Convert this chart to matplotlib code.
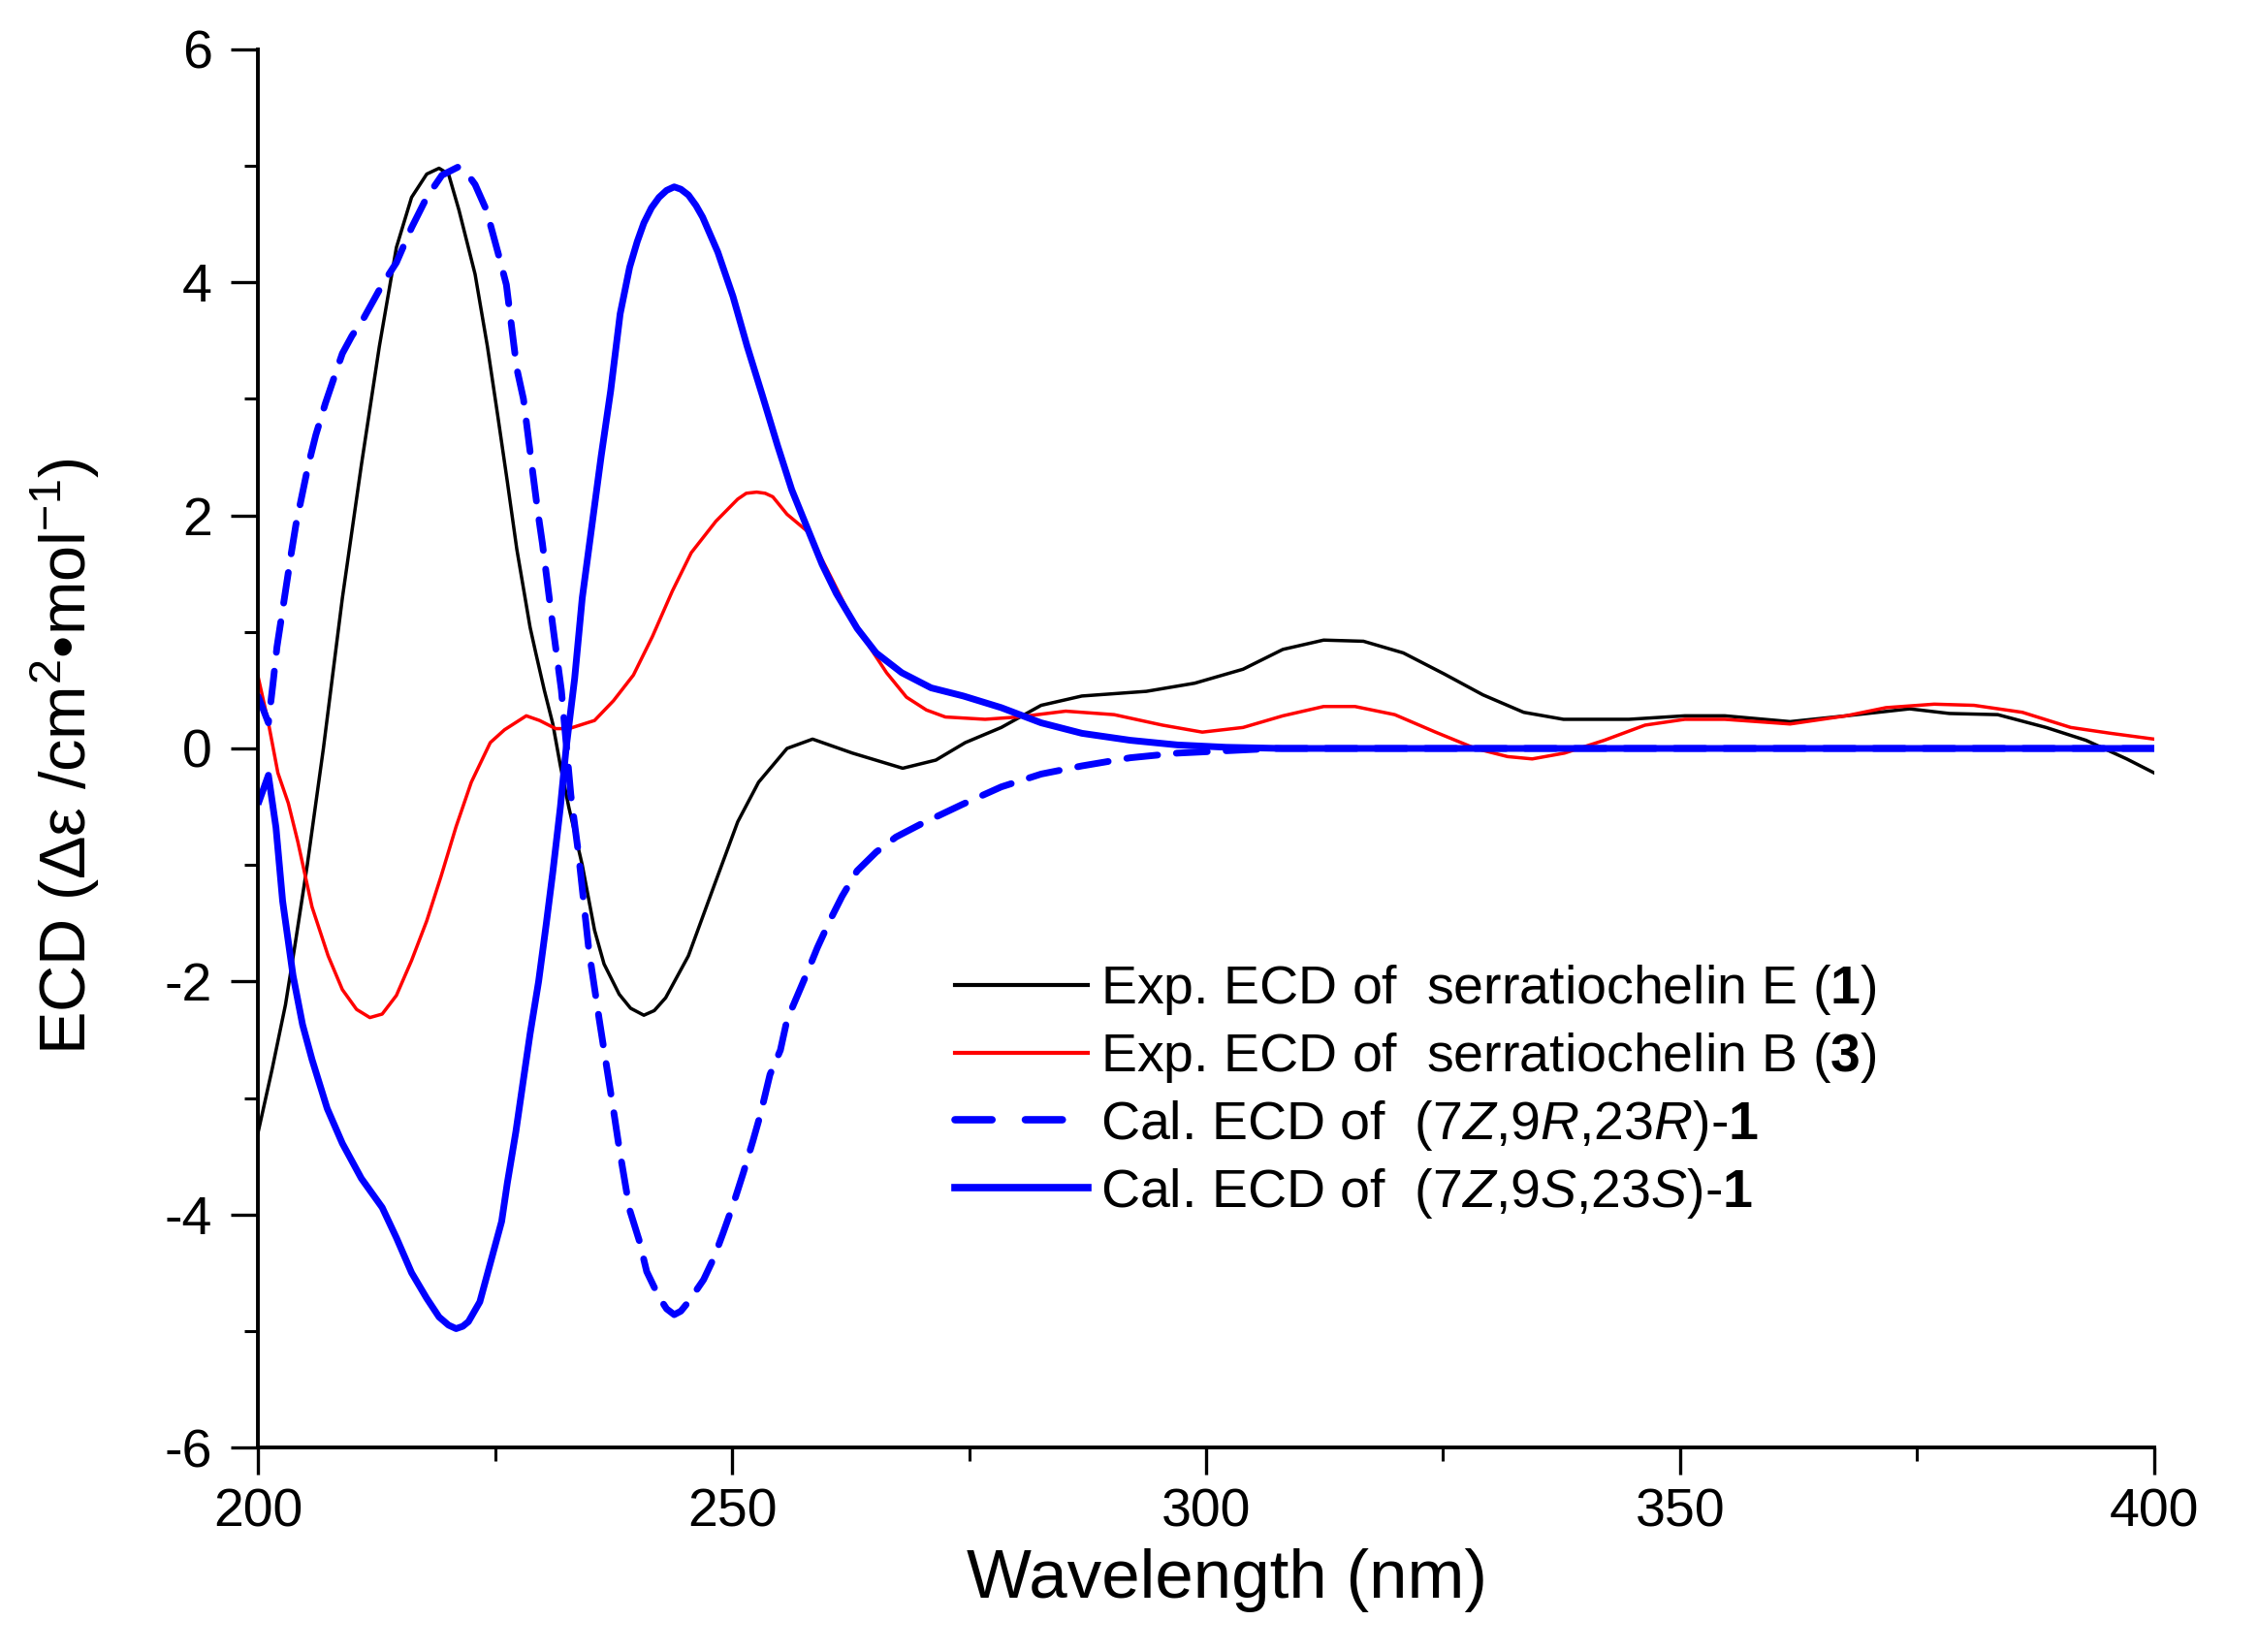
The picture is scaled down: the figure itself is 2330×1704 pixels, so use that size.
import matplotlib
matplotlib.use("Agg")
import matplotlib.pyplot as plt
import matplotlib.ticker as ticker
from matplotlib.lines import Line2D

plt.rcParams["font.family"] = ["Liberation Sans", "DejaVu Sans"]
plt.rcParams["mathtext.fontset"] = "custom"
plt.rcParams["mathtext.rm"] = "Liberation Sans"
plt.rcParams["mathtext.it"] = "Liberation Sans:italic"
plt.rcParams["mathtext.bf"] = "Liberation Sans:bold"
plt.rcParams["axes.unicode_minus"] = False

# --- Exp. ECD of serratiochelin E (1) ---
exp1_x = [200, 201.5, 202.9, 203.9, 205.2, 206.9, 208.9, 210.9, 212.8, 214.6,
          216.2, 217.8, 219.1, 220.1, 221.2, 222.9, 224.2, 225.3, 226.3, 227.3,
          228.7, 229.3, 230.2, 231.1, 231.9, 232.8, 234.2, 235.5, 236.5, 238.1,
          239.3, 240.7, 241.8, 243.0, 245.4, 248.1, 250.6, 252.8, 255.8, 258.5,
          262.7, 268.0, 271.5, 274.6, 278.4, 282.6, 286.9, 293.7, 298.8, 303.9,
          308.1, 312.4, 316.6, 320.8, 325.1, 329.2, 333.5, 337.7, 344.6, 350.5,
          354.7, 361.6, 367.5, 374.2, 378.4, 383.5, 388.6, 392.8, 397.1, 400]
exp1_y = [-3.3, -2.75, -2.2, -1.69, -1.0, 0.0, 1.29, 2.43, 3.45, 4.3,
          4.73, 4.93, 4.98, 4.93, 4.62, 4.07, 3.45, 2.85, 2.29, 1.71,
          1.04, 0.82, 0.5, 0.21, -0.15, -0.51, -1.0, -1.56, -1.85, -2.11,
          -2.23, -2.29, -2.25, -2.14, -1.78, -1.18, -0.63, -0.29, 0.0, 0.08,
          -0.04, -0.17, -0.1, 0.05, 0.18, 0.37, 0.45, 0.49, 0.56, 0.68,
          0.85, 0.93, 0.92, 0.82, 0.64, 0.46, 0.31, 0.25, 0.25, 0.28,
          0.28, 0.23, 0.28, 0.34, 0.3, 0.29, 0.18, 0.07, -0.09, -0.21]

# --- Exp. ECD of serratiochelin B (3) ---
exp3_x = [200, 201.1, 202.1, 203.2, 204.2, 205.7, 207.4, 208.9, 210.4, 211.8,
          213.1, 214.6, 216.2, 217.8, 219.3, 220.9, 222.5, 224.5, 226.0, 228.3,
          229.7, 231.4, 232.8, 235.5, 237.5, 239.6, 241.6, 243.7, 245.7, 248.3,
          250.6, 251.5, 252.6, 253.5, 254.3, 255.8, 258.0, 260.0, 262.1, 264.2,
          266.3, 268.4, 270.5, 272.5, 276.7, 280.2, 285.2, 290.3, 295.4, 299.6,
          303.9, 308.1, 312.4, 315.7, 319.9, 324.2, 328.4, 331.8, 334.4, 337.8,
          342.0, 346.3, 350.5, 354.7, 361.6, 367.5, 371.7, 376.8, 381.0, 386.1,
          391.2, 395.4, 400]
exp3_y = [0.62, 0.22, -0.21, -0.47, -0.8, -1.36, -1.78, -2.07, -2.24, -2.31,
          -2.28, -2.12, -1.82, -1.48, -1.1, -0.67, -0.29, 0.05, 0.16, 0.28,
          0.24, 0.17, 0.17, 0.24, 0.41, 0.63, 0.96, 1.35, 1.68, 1.95,
          2.14, 2.19, 2.2, 2.19, 2.16, 2.01, 1.86, 1.54, 1.2, 0.91,
          0.65, 0.44, 0.33, 0.27, 0.25, 0.27, 0.32, 0.29, 0.2, 0.14,
          0.18, 0.28, 0.36, 0.36, 0.29, 0.14, 0.0, -0.07, -0.09, -0.04,
          0.07, 0.2, 0.25, 0.25, 0.21, 0.28, 0.35, 0.38, 0.37, 0.31,
          0.18, 0.13, 0.08]

# --- Cal. ECD of (7Z,9R,23R)-1 ---
calr_x = [200, 201.1, 201.6, 202.0, 203.5, 204.0, 205.3, 206.1, 207.1, 208.1,
          208.9, 209.9, 211.2, 213.1, 214.6, 216.2, 217.8, 219.4, 221.1, 222.1,
          222.9, 224.1, 225.3, 226.2, 227.3, 228.0, 228.9, 229.5, 230.0, 231.1,
          232.0, 233.0, 233.8, 234.9, 236.0, 237.6, 238.1, 239.2, 240.2, 241.0,
          242.3, 243.1, 243.9, 244.6, 245.4, 247.0, 248.1, 249.1, 250.1, 251.2,
          252.2, 253.0, 254.0, 255.1, 255.8, 256.9, 258.0, 259.0, 260.3, 261.6,
          263.2, 265.2, 267.3, 269.9, 274.3, 278.4, 282.6, 286.9, 292.0, 297.0,
          302.1, 307.2, 320, 340, 360, 380, 400]
calr_y = [0.45, 0.22, 0.57, 0.87, 1.67, 1.92, 2.43, 2.69, 2.96, 3.2,
          3.39, 3.54, 3.7, 3.98, 4.17, 4.47, 4.73, 4.92, 4.99, 4.93,
          4.84, 4.62, 4.26, 3.98, 3.26, 3.0, 2.42, 2.04, 1.76, 1.05,
          0.5, -0.4, -0.9, -1.73, -2.33, -3.16, -3.43, -3.96, -4.22, -4.49,
          -4.71, -4.81, -4.86, -4.83, -4.75, -4.56, -4.37, -4.15, -3.92, -3.64,
          -3.37, -3.14, -2.8, -2.59, -2.33, -2.12, -1.91, -1.71, -1.48, -1.27,
          -1.05, -0.89, -0.76, -0.65, -0.48, -0.33, -0.22, -0.15, -0.08, -0.04,
          -0.02, 0.0, 0.0, 0.0, 0.0, 0.0, 0.0]

# --- Cal. ECD of (7Z,9S,23S)-1 ---
cals_x = [200, 201.1, 201.9, 202.6, 203.7, 204.7, 205.7, 207.3, 208.9, 210.9,
          213.1, 214.6, 216.2, 217.8, 219.1, 220.1, 220.9, 221.6, 222.2, 223.4,
          224.6, 225.7, 226.3, 227.2, 228.0, 228.7, 229.6, 230.4, 231.1, 231.9,
          232.5, 233.4, 234.2, 235.2, 236.2, 237.2, 238.2, 239.2, 240.0, 240.7,
          241.5, 242.3, 243.1, 243.9, 244.6, 245.4, 246.2, 246.9, 248.5, 250.1,
          251.6, 253.2, 254.8, 256.3, 258.0, 259.5, 261.0, 263.2, 265.2, 267.9,
          271.0, 274.4, 278.4, 282.6, 286.9, 292.0, 297.0, 302.1, 308, 320,
          340, 360, 380, 400]
cals_y = [-0.48, -0.23, -0.68, -1.31, -1.95, -2.37, -2.67, -3.09, -3.39, -3.69,
          -3.94, -4.2, -4.5, -4.72, -4.88, -4.95, -4.98, -4.96, -4.92, -4.75,
          -4.39, -4.06, -3.73, -3.29, -2.84, -2.45, -2.0, -1.51, -1.06, -0.5,
          0.0, 0.6, 1.29, 1.9, 2.51, 3.07, 3.73, 4.13, 4.35, 4.51,
          4.64, 4.73, 4.79, 4.82, 4.8, 4.75, 4.66, 4.56, 4.26, 3.88,
          3.45, 3.03, 2.6, 2.22, 1.88, 1.58, 1.33, 1.03, 0.82, 0.65,
          0.52, 0.45, 0.35, 0.22, 0.13, 0.07, 0.03, 0.01, 0.0, 0.0,
          0.0, 0.0, 0.0, 0.0]

LABELS = [
    "Exp. ECD of  serratiochelin E ($\\mathbf{1}$)",
    "Exp. ECD of  serratiochelin B ($\\mathbf{3}$)",
    "Cal. ECD of  (7$\\mathit{Z}$,9$\\mathit{R}$,23$\\mathit{R}$)-$\\mathbf{1}$",
    "Cal. ECD of  (7$\\mathit{Z}$,9$\\mathit{S}$,23$\\mathit{S}$)-$\\mathbf{1}$",
]

fig = plt.figure(figsize=(23.3, 17.04), dpi=100)
ax = fig.add_axes([0.1142, 0.1238, 0.8394, 0.8463])

ax.plot(exp1_x, exp1_y, color="black", lw=2.5)
ax.plot(exp3_x, exp3_y, color="#FF0000", lw=2.5)
ax.plot(calr_x, calr_y, color="#0000FF", lw=5, ls=(0, (4.6, 2.8)),
        dash_capstyle="round")
ax.plot(cals_x, cals_y, color="#0000FF", lw=5, solid_capstyle="butt")

ax.set_xlim(200, 400)
ax.set_ylim(-6, 6)
ax.xaxis.set_major_locator(ticker.MultipleLocator(50))
ax.xaxis.set_minor_locator(ticker.MultipleLocator(25))
ax.yaxis.set_major_locator(ticker.MultipleLocator(2))
ax.yaxis.set_minor_locator(ticker.MultipleLocator(1))

for side in ["top", "right"]:
    ax.spines[side].set_visible(False)
for side in ["left", "bottom"]:
    ax.spines[side].set_linewidth(2.8)

ax.tick_params(which="major", direction="out", length=20, width=2.4,
               labelsize=40, pad=10)
ax.tick_params(which="minor", direction="out", length=10, width=2.2)
ax.tick_params(axis="y", which="major", pad=14)

fig.text(0.543, 0.0329, "Wavelength (nm)", fontsize=51,
         ha="center", va="baseline")
fig.text(0.029, 0.542, "ECD (\u0394\u03b5 /cm$^{2}$\u2022mol$^{-1}$)",
         fontsize=48, rotation=90, ha="center", va="center")

handles = [
    Line2D([], [], color="black", lw=3),
    Line2D([], [], color="#FF0000", lw=3),
    Line2D([], [], color="#0000FF", lw=5.5, ls=(0, (5.0, 4.5)),
           dash_capstyle="round"),
    Line2D([], [], color="#0000FF", lw=5.5),
]
ax.legend(handles, LABELS, loc="upper left", bbox_to_anchor=(0.4227, 0.4172),
          bbox_transform=fig.transFigure, frameon=False, fontsize=40,
          borderpad=0, borderaxespad=0, handlelength=2.46,
          handletextpad=0.25, labelspacing=0.25)

fig.savefig("out.png", dpi=100)
